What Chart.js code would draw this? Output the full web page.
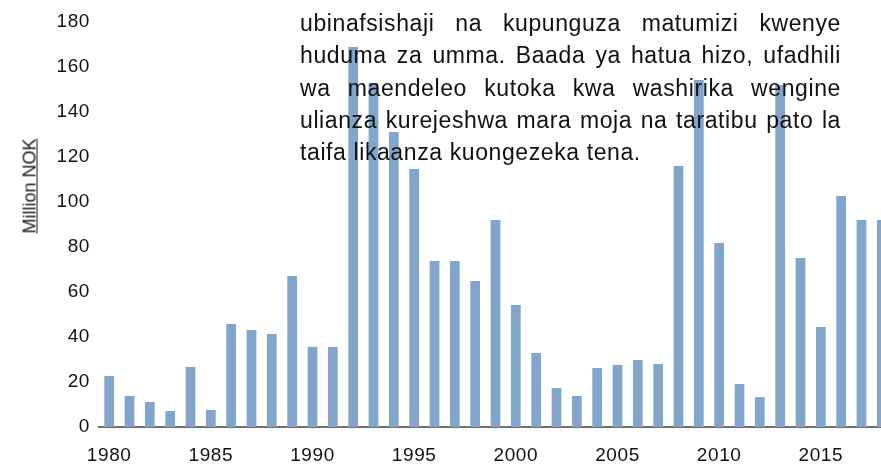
<!DOCTYPE html>
<html>
<head>
<meta charset="utf-8">
<script src="https://cdn.jsdelivr.net/npm/chart.js@4"></script>
<style>
  body { margin:0; width:881px; height:464px; overflow:hidden; position:relative; background:#fff; }
  #chart { position:absolute; left:0; top:0; }
  #ytitle {
    position:absolute; left:30px; top:186px;
    transform:translate(-50%,-50%) rotate(-90deg);
    font:18px "Liberation Sans", Arial, sans-serif; color:#1a1a1a;
    text-decoration:underline; white-space:nowrap;
  }
  #para { position:absolute; left:300px; top:7px; width:541px; z-index:2;
    font:23px "Liberation Sans", Arial, sans-serif; letter-spacing:0.6px; color:#111; }
  #para div { line-height:32.3px; height:32.3px; white-space:nowrap; text-align:justify; text-align-last:justify; }
  #para div.last { text-align-last:left; }
</style>
</head>
<body>
<canvas id="chart" width="900" height="464"></canvas>
<div id="ytitle">Million NOK</div>
<div id="para">
  <div>ubinafsishaji  na kupunguza  matumizi  kwenye</div>
  <div>huduma za umma. Baada ya hatua hizo, ufadhili</div>
  <div>wa maendeleo  kutoka kwa washirika  wengine</div>
  <div>ulianza kurejeshwa mara moja na taratibu pato la</div>
  <div class="last">taifa likaanza kuongezeka tena.</div>
</div>
<script>
// categories (years)
const years = ["1980","1981","1982","1983","1984","1985","1986","1987","1988","1989",
               "1990","1991","1992","1993","1994","1995","1996","1997","1998","1999",
               "2000","2001","2002","2003","2004","2005","2006","2007","2008","2009",
               "2010","2011","2012","2013","2014","2015","2016","2017","2018"];

// values, million NOK
const funding = [22.7, 13.8, 11.1, 7.1, 26.7, 7.6, 45.8, 43.1, 41.3, 67.1,
                 35.6, 35.6, 168.9, 152.9, 131.1, 114.7, 73.8, 73.8, 64.9, 92,
                 54.2, 32.9, 17.3, 13.8, 26.2, 27.6, 29.8, 28, 116, 154.2,
                 81.8, 19.1, 13.3, 152, 75.1, 44.4, 102.7, 92, 92];

// y ticks
const yMin = 0, yMax = 180, yStep = 20;
// x labels shown every 5 years
const shownYears = ["1980","1985","1990","1995","2000","2005","2010","2015"];

const tickFont = { family: "'Liberation Sans', Arial, sans-serif", size: 19 };

// wider tick text like the reference
const spacing = {
  id: "spacing",
  beforeLayout(c){ c.ctx.letterSpacing = "0.6px"; },
  beforeDraw(c){ c.ctx.letterSpacing = "0.6px"; }
};

new Chart(document.getElementById("chart"), {
  type: "bar",
  data: {
    labels: years,
    datasets: [{
      data: funding,
      backgroundColor: "#82a6cb",
      borderWidth: 0,
      categoryPercentage: 1,
      barPercentage: 0.48
    }]
  },
  options: {
    responsive: false,
    animation: false,
    devicePixelRatio: 1,
    layout: { padding: { left: 0, top: 22, right: 8, bottom: 0 } },
    plugins: { legend: { display: false }, tooltip: { enabled: false } },
    scales: {
      x: {
        grid: { display: false },
        border: { display: true, color: "#707070", width: 2 },
        ticks: {
          autoSkip: false, maxRotation: 0, padding: 9,
          color: "#111", font: tickFont,
          callback: (v, i) => shownYears.includes(years[i]) ? years[i] : ""
        },
        afterFit: s => { s.height = 37; }
      },
      y: {
        min: yMin, max: yMax,
        grid: { display: false },
        border: { display: false },
        ticks: { stepSize: yStep, padding: 1, color: "#111", font: tickFont },
        afterFit: s => { s.width = 99; }
      }
    }
  },
  plugins: [spacing]
});
</script>
</body>
</html>
